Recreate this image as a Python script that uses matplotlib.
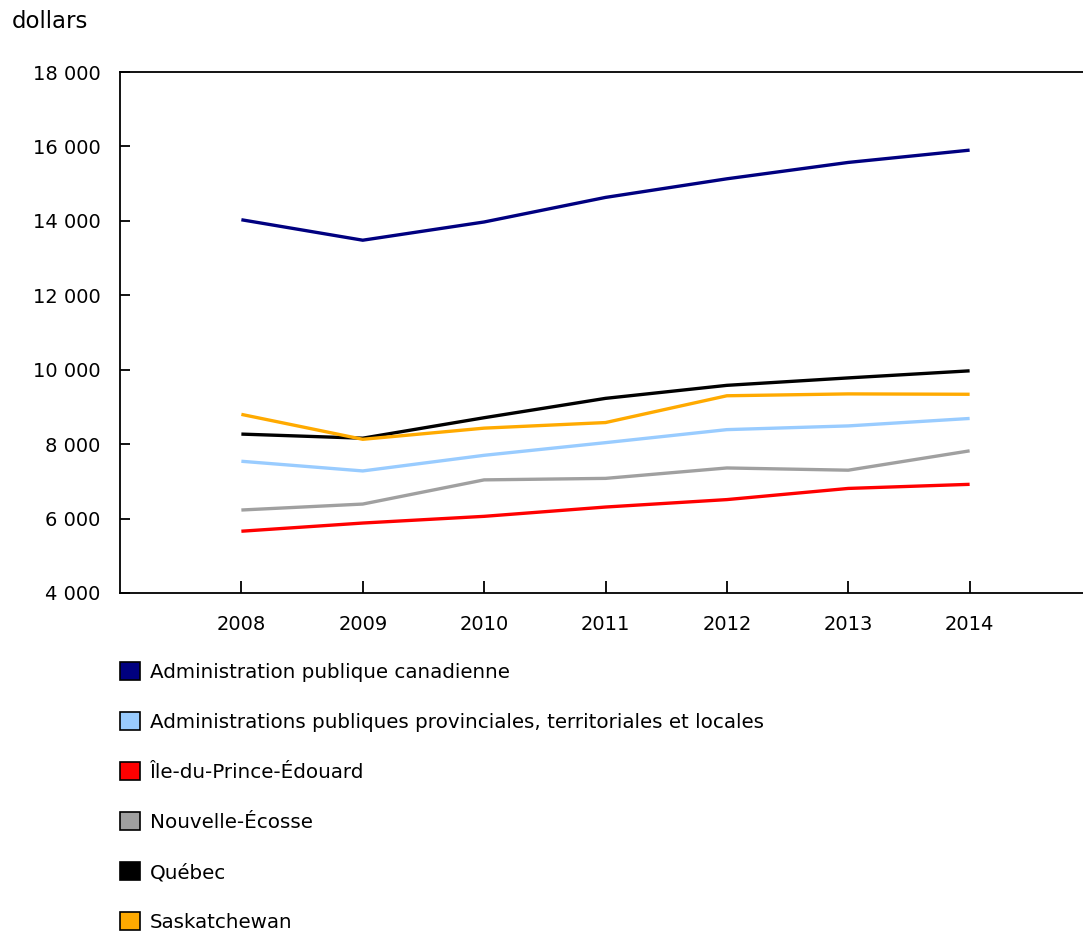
import matplotlib
matplotlib.use("Agg")
import matplotlib.pyplot as plt
from matplotlib.patches import Patch
from matplotlib.ticker import FuncFormatter

years = [2008, 2009, 2010, 2011, 2012, 2013, 2014]
series_names = [
    "Administration publique canadienne",
    "Administrations publiques provinciales, territoriales et locales",
    "Île-du-Prince-Édouard",
    "Nouvelle-Écosse",
    "Québec",
    "Saskatchewan",
]
admin_canadienne = [14030, 13480, 13970, 14630, 15130, 15570, 15900]
admin_provinciales = [7540, 7280, 7700, 8040, 8390, 8490, 8690]
ile_pe = [5660, 5880, 6060, 6310, 6510, 6810, 6920]
nouvelle_ecosse = [6230, 6390, 7040, 7080, 7360, 7300, 7820]
quebec = [8270, 8160, 8710, 9230, 9580, 9780, 9970]
saskatchewan = [8800, 8130, 8430, 8580, 9300, 9350, 9340]
series_values = [admin_canadienne, admin_provinciales, ile_pe, nouvelle_ecosse, quebec, saskatchewan]
colors = ["#000080", "#99CCFF", "#FF0000", "#A0A0A0", "#000000", "#FFAA00"]
y_ticks = [4000, 6000, 8000, 10000, 12000, 14000, 16000, 18000]

plt.rcParams['font.family'] = ['DejaVu Sans']
fs = 14.0
lfs = 14.3

fig = plt.figure(figsize=(10.83, 9.31), dpi=100)
W, H = 1083, 931
ax = fig.add_axes([120 / W, 1 - 593 / H, 971 / W, (593 - 72) / H])

for vals, c in zip(series_values, colors):
    ax.plot(years, vals, color=c, lw=2.4, solid_capstyle='butt')

ax.set_xlim(2007, 2015)
ax.set_ylim(4000, 18000)
ax.set_xticks(years)
ax.set_yticks(y_ticks)
ax.yaxis.set_major_formatter(FuncFormatter(lambda v, p: f"{int(v):,}".replace(",", " ")))
ax.tick_params(axis='y', direction='in', length=7, width=1.3, pad=14, labelsize=fs)
ax.tick_params(axis='x', direction='in', length=9, width=1.3, pad=16, labelsize=fs)
ax.spines['right'].set_visible(False)
for s in ['left', 'bottom', 'top']:
    ax.spines[s].set_linewidth(1.3)

fig.text(12 / W, 1 - 22 / H, "dollars", fontsize=16.5, va='center', ha='left')

handles = [Patch(facecolor=c, edgecolor='black', linewidth=1.2) for c in colors]
fig.legend(handles, series_names, loc='upper left',
           bbox_to_anchor=(120 / W, 1 - 662 / H), frameon=False,
           fontsize=lfs, handlelength=1.0, handleheight=1.0,
           handletextpad=0.5, labelspacing=1.53, borderaxespad=0, borderpad=0)

fig.savefig("out.png", dpi=100)
